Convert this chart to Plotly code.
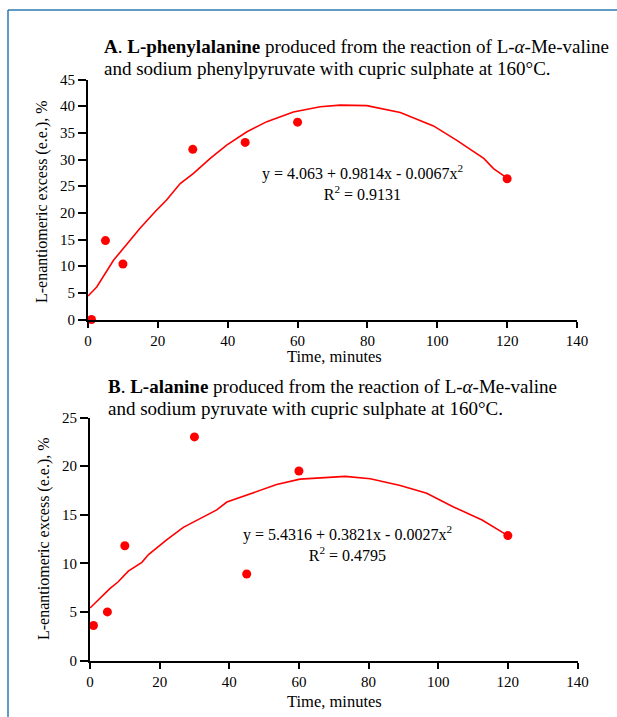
import plotly.graph_objects as go

W, H = 617, 717

# ---------- Data: panel A (L-phenylalanine) ----------
a_time = [1, 5, 10, 30, 45, 60, 120]
a_ee = [0.0, 14.8, 10.4, 31.9, 33.2, 37.0, 26.4]
# trendline
a_fit_x = [0, 2.5, 7.3, 10.1, 14.9, 19.2, 22.5, 26.4, 30.2, 35.0, 39.7, 45.5, 51.2,
           58.8, 66.5, 72.2, 79.8, 89.4, 98.9, 105.6, 113.3, 116.1, 120]
a_fit_y = [4.4, 6.1, 11.1, 13.3, 17.1, 20.2, 22.4, 25.5, 27.4, 30.2, 32.7, 35.2, 37.1,
           38.9, 39.9, 40.2, 40.1, 38.8, 36.3, 33.6, 30.2, 28.3, 26.5]

# ---------- Data: panel B (L-alanine) ----------
b_time = [1, 5, 10, 30, 45, 60, 120]
b_ee = [3.6, 5.0, 11.8, 23.0, 8.9, 19.5, 12.85]
b_fit_x = [0, 2.9, 5.7, 8.1, 11.0, 14.9, 16.8, 22.0, 26.8, 31.6, 36.4, 39.3, 45.0,
           53.6, 60.3, 66.1, 73.3, 80.5, 89.1, 96.7, 104.4, 112.6, 120]
b_fit_y = [5.4, 6.4, 7.4, 8.1, 9.2, 10.1, 10.9, 12.4, 13.7, 14.6, 15.5, 16.3, 17.0,
           18.1, 18.66, 18.8, 18.94, 18.7, 18.0, 17.2, 15.8, 14.45, 12.85]

x_ticks = [0, 20, 40, 60, 80, 100, 120, 140]
a_y_ticks = [0, 5, 10, 15, 20, 25, 30, 35, 40, 45]
b_y_ticks = [0, 5, 10, 15, 20, 25]

RED = "#ff0000"
FONT = "Liberation Serif, Times New Roman, serif"

fig = go.Figure()
fig.add_trace(go.Scatter(x=a_fit_x, y=a_fit_y, mode="lines", line=dict(color=RED, width=1.6),
                         xaxis="x", yaxis="y", showlegend=False, cliponaxis=False))
fig.add_trace(go.Scatter(x=a_time, y=a_ee, mode="markers", marker=dict(color=RED, size=9),
                         xaxis="x", yaxis="y", showlegend=False, cliponaxis=False))
fig.add_trace(go.Scatter(x=b_fit_x, y=b_fit_y, mode="lines", line=dict(color=RED, width=1.6),
                         xaxis="x2", yaxis="y2", showlegend=False, cliponaxis=False))
fig.add_trace(go.Scatter(x=b_time, y=b_ee, mode="markers", marker=dict(color=RED, size=9),
                         xaxis="x2", yaxis="y2", showlegend=False, cliponaxis=False))


def px_x(v):
    return v / W


def px_y(v):
    return 1 - v / H


axis_common = dict(showgrid=False, zeroline=False, showline=True, linecolor="black",
                   linewidth=2, ticks="outside", tickcolor="black", tickwidth=2,
                   automargin=False,
                   tickfont=dict(family=FONT, size=15, color="black"))

fig.update_layout(
    template="none",
    width=W, height=H,
    margin=dict(l=0, r=0, t=0, b=0),
    paper_bgcolor="white", plot_bgcolor="white",
    font=dict(family=FONT, color="black"),
    xaxis=dict(domain=[px_x(88), px_x(577)], range=[0, 140], tickvals=x_ticks,
               anchor="y", ticklen=6, **axis_common),
    yaxis=dict(domain=[px_y(319.5), px_y(79.5)], range=[0, 45], tickvals=a_y_ticks,
               anchor="x", ticklen=8, **axis_common),
    xaxis2=dict(domain=[px_x(90), px_x(577.5)], range=[0, 140], tickvals=x_ticks,
                anchor="y2", ticklen=6, **axis_common),
    yaxis2=dict(domain=[px_y(660.5), px_y(417.5)], range=[0, 25], tickvals=b_y_ticks,
                anchor="x2", ticklen=8, **axis_common),
)

anns = []


def ann(text, x, y, size, xanchor="center", angle=0):
    anns.append(dict(text=text, x=px_x(x), y=px_y(y), xref="paper", yref="paper",
                     xanchor=xanchor, yanchor="middle", showarrow=False, textangle=angle,
                     font=dict(family=FONT, size=size, color="black")))


# Titles
ann("<b>A</b>. <b>L-phenylalanine</b> produced from the reaction of L-<i>α</i>-Me-valine",
    102, 46, 19, "left")
ann("and sodium phenylpyruvate with cupric sulphate at 160°C.", 102, 68, 19, "left")
ann("<b>B</b>. <b>L-alanine</b> produced from the reaction of L-<i>α</i>-Me-valine",
    106, 386, 19, "left")
ann("and sodium pyruvate with cupric sulphate at 160°C.", 106, 408, 19, "left")

# Axis titles
ann("L-enantiomeric excess (e.e.), %", 42, 201, 16, angle=-90)
ann("Time, minutes", 334, 356, 16.5)
ann("L-enantiomeric excess (e.e.), %", 44, 539, 16, angle=-90)
ann("Time, minutes", 334, 701, 16.5)

# Equations (two centred lines in one text block)
ann("y = 4.063 + 0.9814x - 0.0067x<sup>2</sup><br>R<sup>2</sup> = 0.9131", 362, 182, 16)
ann("y = 5.4316 + 0.3821x - 0.0027x<sup>2</sup><br>R<sup>2</sup> = 0.4795", 347, 543, 16)

fig.update_layout(annotations=anns)

# Blue frame
BLUE = "#2a7ab0"
fig.add_shape(type="line", xref="paper", yref="paper", x0=px_x(8), x1=1.0,
              y0=px_y(10), y1=px_y(10), line=dict(color=BLUE, width=1.5))
fig.add_shape(type="line", xref="paper", yref="paper", x0=px_x(8), x1=px_x(8),
              y0=px_y(10), y1=0, line=dict(color=BLUE, width=1.5))

fig.write_html("out.html", config={"displayModeBar": False},
               post_script="document.body.style.margin='0';document.body.style.overflow='hidden';")
